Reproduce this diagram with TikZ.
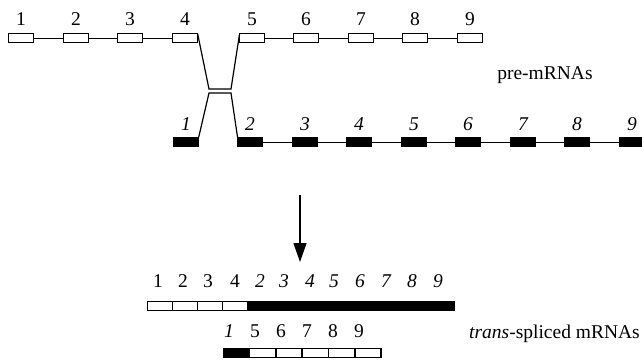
\documentclass[tikz,border=0pt]{standalone}
\usepackage{fontspec}
\setmainfont{Liberation Serif}
\usetikzlibrary{arrows.meta}
\begin{document}
\begin{tikzpicture}[x=1pt,y=-1pt,
  exon/.style={draw=black,line width=1.2pt,minimum width=25pt,minimum height=9pt,inner sep=0pt,outer sep=0pt,anchor=north west},
  wexon/.style={exon,fill=white},
  bexon/.style={exon,fill=black},
  intron/.style={line width=1pt},
  lab/.style={font=\fontsize{19.5}{22}\selectfont,inner sep=0pt,anchor=base},
  ilab/.style={lab,font=\fontsize{19.5}{22}\selectfont\itshape},
  arr/.style={line width=1.3pt,-{Triangle[width=13pt,length=19pt]}}]
\useasboundingbox (0,0) rectangle (642,362);
% top pre-mRNA
\foreach \i/\x in {1/8,2/63,3/117,4/172,5/239,6/293,7/348,8/402,9/457}{
  \node[wexon] (t\i) at (\x+0.6,33.6) {};
  \node[lab] (tl\i) at (\x+13,25) {\i};
}
\foreach \a/\b in {1/2,2/3,3/4,5/6,6/7,7/8,8/9}{
  \draw[intron] (t\a.east) -- (t\b.west);
}
% bottom pre-mRNA
\foreach \i/\x in {1/173,2/237,3/292,4/346,5/401,6/455,7/510,8/564,9/619}{
  \node[bexon] (b\i) at (\x+0.6,137.6) {};
  \node[ilab] (bl\i) at (\x+13,130) {\i};
}
\foreach \a/\b in {2/3,3/4,4/5,5/6,6/7,7/8,8/9}{
  \draw[intron] (b\a.east) -- (b\b.west);
}
% splice junction
\coordinate (u1) at (209,89);
\coordinate (u2) at (231,89);
\coordinate (l1) at (209,93);
\coordinate (l2) at (231,93);
\draw[intron,line width=1.2pt] (t4.north east) -- (u1) -- (u2) -- (t5.north west);
\draw[intron,line width=1.2pt] (b1.north east) -- (l1) -- (l2) -- (b2.north west);
% labels
\node[lab] (pre) at (545,79) {pre-mRNAs};
% arrow
\coordinate (a1) at (300,195);
\coordinate (a2) at (300,262);
\draw[arr] (a1) -- (a2);
% trans-spliced mRNA 1
\foreach \i/\x in {1/147,2/172,3/197,4/222}{
  \node[wexon] (m\i) at (\x+0.6,301.6) {};
}
\node[bexon,minimum width=207pt] (mb) at (247.6,301.6) {};
\foreach \t/\x in {1/158,2/183,3/208,4/235}{
  \node[lab] at (\x,287) {\t};
}
\foreach \t/\x in {2/260,3/284,4/310,5/334,6/360,7/386,8/412,9/438}{
  \node[ilab] at (\x,287) {\t};
}
% trans-spliced mRNA 2
\node[bexon,minimum width=25.4pt] (n0) at (223.6,348.6) {};
\foreach \i/\x in {1/249,2/275.4,3/301.8,4/328.2,5/354.6}{
  \node[wexon,minimum width=25.8pt] (n\i) at (\x+0.6,348.6) {};
}
\node[ilab] at (229,337) {1};
\foreach \t/\x in {5/255,6/281,7/307,8/333,9/359}{
  \node[lab] at (\x,337) {\t};
}
\node[lab,anchor=base east] (ts) at (640,338) {\textit{trans}-spliced mRNAs};
\end{tikzpicture}
\end{document}
